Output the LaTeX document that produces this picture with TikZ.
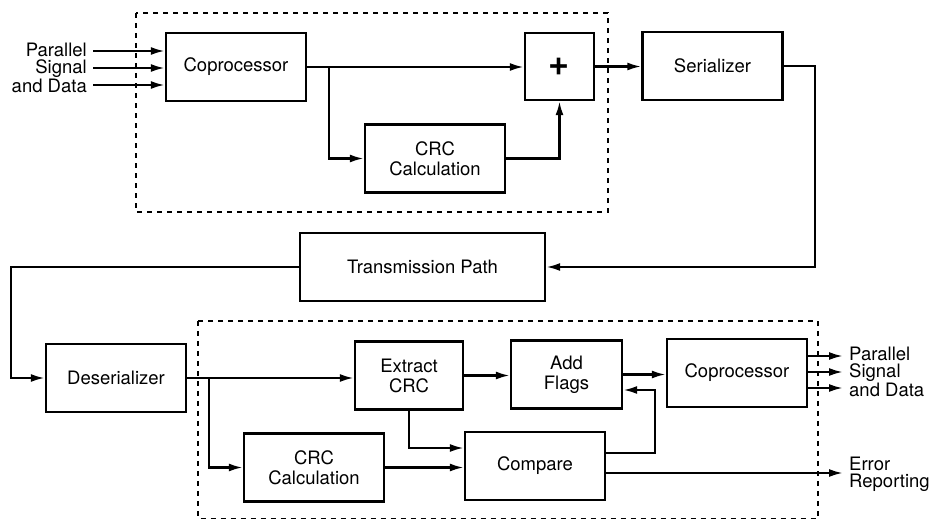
\documentclass[tikz,border=0pt]{standalone}
\usepackage{fontspec}
\setmainfont{TeX Gyre Heros}
\usetikzlibrary{arrows.meta, positioning, shadows}

\tikzset{
  block/.style={draw, fill=white, line width=2.4pt, minimum width=140pt, minimum height=68pt,
    align=center, font=\fontsize{18.5}{20}\selectfont,
    drop shadow={shadow xshift=1.4pt, shadow yshift=-1.4pt, fill=black, opacity=1}},
  sig/.style={line width=2.2pt, -{Latex[length=14pt,width=8pt]}},
  groupbox/.style={draw, line width=1.4pt, dash pattern=on 5pt off 5pt},
  io/.style={inner sep=0pt, font=\fontsize{18.5}{17}\selectfont}
}

\begin{document}
\begin{tikzpicture}[x=1pt, y=-1pt]
    \useasboundingbox (0,0) rectangle (934,519);

    % transmitter side
    \draw[groupbox] (136,13) rectangle (608,212);
    \node[block] (cop) at (236,67) {Coprocessor};
    \node[block, minimum width=69pt, minimum height=67pt, font=\fontsize{36}{36}\bfseries] (sum) at (559.5,66.5) {+};
    \node[block] (crca) at (435,158.5) {CRC\\Calculation};
    \node[block] (ser) at (712.5,66) {Serializer};

    \node[io, anchor=east, align=right] (pin) at (87,68) {Parallel\\Signal\\and Data};
    \coordinate (ina) at (93,51);
    \coordinate (inb) at (93,68);
    \coordinate (inc) at (93,85);
    \draw[sig] (ina) -- (ina -| cop.west);
    \draw[sig] (inb) -- (inb -| cop.west);
    \draw[sig] (inc) -- (inc -| cop.west);

    \coordinate (tapa) at (329,67);
    \draw[sig] (cop.east) -- (cop.east -| sum.west);
    \draw[sig] (tapa) |- (crca.west);
    \draw[sig] (crca.east) -| (sum.south);
    \draw[sig] (sum.east) -- (sum.east -| ser.west);

    % channel
    \node[block, minimum width=245pt] (path) at (422.5,267) {Transmission Path};
    \node[block] (deser) at (116,378) {Deserializer};
    \draw[sig] (ser.east) -- ++(31,0) |- (path.east);
    \draw[sig] (path.west) -- ++(-288,0) |- (deser.west);

    % receiver side
    \draw[groupbox] (198,321) rectangle (818,518.5);
    \node[block, minimum width=108pt] (ext) at (409,375.5) {Extract\\CRC};
    \node[block, minimum width=111pt] (flags) at (566.5,374.5) {Add\\Flags};
    \node[block] (copb) at (737,373) {Coprocessor};
    \node[block] (crcb) at (314,467.5) {CRC\\Calculation};
    \node[block] (cmp) at (535,466) {Compare};

    \coordinate (tapb) at (209,378);
    \draw[sig] (deser.east) -- (deser.east -| ext.west);
    \draw[sig] (tapb) |- (crcb.west);
    \draw[sig] (ext.south) |- ([yshift=18pt]cmp.west);
    \draw[sig] (crcb.east) -- (crcb.east -| cmp.west);
    \draw[sig] (ext.east) -- (ext.east -| flags.west);
    \draw[sig] (flags.east) -- (flags.east -| copb.west);
    \draw[sig] ([yshift=13pt]cmp.east) -- ++(49,0) |- ([yshift=-15.5pt]flags.east);

    \coordinate (outa) at (843,356);
    \coordinate (outb) at (843,372);
    \coordinate (outc) at (843,388);
    \coordinate (errout) at (843,473);
    \draw[sig] (copb.east |- outa) -- (outa);
    \draw[sig] (copb.east |- outb) -- (outb);
    \draw[sig] (copb.east |- outc) -- (outc);
    \draw[sig] (cmp.east |- errout) -- (errout);
    \node[io, anchor=west, align=left] (pout) at (849,372) {Parallel\\Signal\\and Data};
    \node[io, anchor=west, align=left] (err) at (849,474) {Error\\Reporting};
\end{tikzpicture}
\end{document}
